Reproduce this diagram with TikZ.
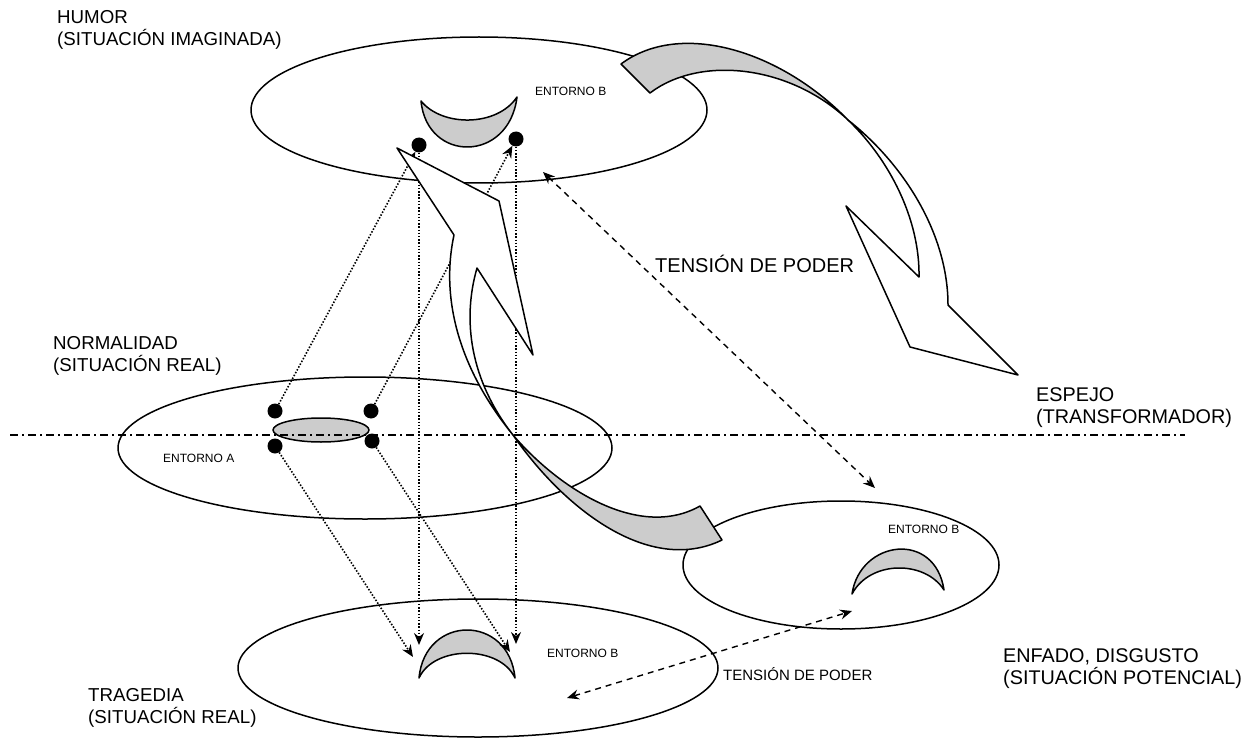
\documentclass[tikz,border=0pt]{standalone}
\usepackage{fontspec}
\setmainfont{Liberation Sans}
\usetikzlibrary{arrows.meta}
\definecolor{shade}{RGB}{204,204,204}
\begin{document}
\begin{tikzpicture}[x=1pt,y=-1pt,
  outl/.style={line width=1.5pt, line join=round},
  dotln/.style={line width=1.6pt, dash pattern=on 1.5pt off 1.7pt, -{Stealth[length=12pt,width=10pt,inset=4pt]}},
  dashln/.style={line width=1.4pt, dash pattern=on 6pt off 5pt, {Stealth[length=12pt,width=10pt,inset=4pt]}-{Stealth[length=12pt,width=10pt,inset=4pt]}},
  blob/.style={circle, fill=black, inner sep=0pt, minimum size=15pt},
  lbl/.style={anchor=north west, inner sep=0pt, align=left, font=\fontsize{18.7}{22}\selectfont},
  lblbig/.style={lbl, font=\fontsize{19.8}{22}\selectfont},
  ent/.style={anchor=base west, inner sep=0pt, font=\fontsize{12}{14}\selectfont},
  axis/.style={line width=1.2pt, dash pattern=on 8pt off 4pt on 2pt off 4pt}
]
\useasboundingbox (0,0) rectangle (1244,738);

% ellipses
\draw[outl] (479,110) ellipse [x radius=228pt, y radius=73pt];
\draw[outl] (365,448) ellipse [x radius=247pt, y radius=71pt];
\draw[outl] (478,668) ellipse [x radius=240pt, y radius=69pt];
\draw[outl] (841,565) ellipse [x radius=158pt, y radius=64pt];

% crescents
\filldraw[outl, fill=shade] (421,101) .. controls (427,163) and (509,163) .. (517,97)
  .. controls (497,127) and (442,127) .. (421,101) -- cycle;
\filldraw[outl, fill=shade] (419,678) .. controls (425,614) and (509,614) .. (515,678)
  .. controls (500,645) and (434,645) .. (419,678) -- cycle;
\filldraw[outl, fill=shade] (852,594) .. controls (860,540) and (935,530) .. (944,590)
  .. controls (925,560) and (870,560) .. (852,594) -- cycle;
\filldraw[outl, fill=shade] (321,430) ellipse [x radius=48pt, y radius=12pt];

% dots
\node[blob] (n1) at (275,411) {};
\node[blob] (n2) at (371,411) {};
\node[blob] (n3) at (275,446) {};
\node[blob] (n4) at (372,441) {};
\node[blob] (h1) at (419,145) {};
\node[blob] (h2) at (516,139) {};
\coordinate (b1) at (419,645);
\coordinate (b2) at (516,644);
\coordinate (b3) at (413,657);
\coordinate (b4) at (510,652);

% projection lines
\draw[dotln] (n1) -- (h1);
\draw[dotln] (n2) -- (h2);
\draw[dotln] (h1) -- (b1);
\draw[dotln] (h2) -- (b2);
\draw[dotln] (n3) -- (b3);
\draw[dotln] (n4) -- (b4);

% tension lines
\coordinate (p1) at (543,172);
\coordinate (p2) at (875,488);
\coordinate (q1) at (567,698);
\coordinate (q2) at (852,611);
\draw[dashln] (p1) -- (p2);
\draw[dashln] (q1) -- (q2);

% mirror arrow (top right)
\filldraw[outl, fill=white] (848,120) .. controls (905,165) and (948,235) .. (948,305)
  -- (1018,375) -- (910,347) -- (846,206) -- (919,277)
  .. controls (920,220) and (890,160) .. (848,120) -- cycle;
\filldraw[outl, fill=shade] (650,93) -- (621,64) .. controls (680,20) and (780,50) .. (848,120)
  .. controls (790,65) and (700,55) .. (650,93) -- cycle;

% middle arrow
\filldraw[outl, fill=white] (397,148) -- (499,201) -- (533,355) -- (477,268)
  .. controls (462,320) and (470,380) .. (513,435)
  .. controls (460,370) and (440,300) .. (454,235) -- cycle;
\filldraw[outl, fill=shade] (513,435) .. controls (560,490) and (640,540) .. (700,506)
  -- (722,540) .. controls (650,575) and (565,510) .. (513,435) -- cycle;

% axis
\coordinate (axL) at (10,435);
\coordinate (axR) at (1185,435);
\draw[axis] (axL) -- (axR);

% labels
\node[lbl] (humor) at (57,10) {HUMOR\\(SITUACIÓN IMAGINADA)};
\node[lbl] (normal) at (53,336) {NORMALIDAD\\(SITUACIÓN REAL)};
\node[lblbig] (espejo) at (1036,387.5) {ESPEJO\\(TRANSFORMADOR)};
\node[lblbig] (enfado) at (1003,648) {ENFADO, DISGUSTO\\(SITUACIÓN POTENCIAL)};
\node[lbl] (tragedia) at (88,688) {TRAGEDIA\\(SITUACIÓN REAL)};

\node[ent] (entb1) at (535,96) {ENTORNO B};
\node[ent] (enta) at (163,462) {ENTORNO A};
\node[ent] (entb2) at (888,533) {ENTORNO B};
\node[ent] (entb3) at (547,657) {ENTORNO B};

\node[anchor=base west, inner sep=0pt, font=\fontsize{20}{24}\selectfont] (ten1) at (655,272) {TENSIÓN DE PODER};
\node[anchor=base west, inner sep=0pt, font=\fontsize{15}{18}\selectfont] (ten2) at (723,680) {TENSIÓN DE PODER};
\end{tikzpicture}
\end{document}
